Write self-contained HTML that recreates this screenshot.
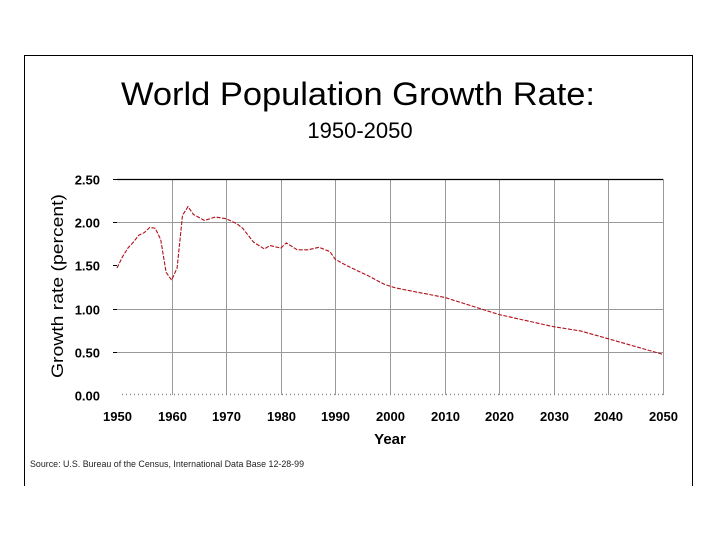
<!DOCTYPE html>
<html><head><meta charset="utf-8"><style>
body{margin:0;background:#fff;}
svg text{font-family:"Liberation Sans",Arial,sans-serif;}
</style></head><body>
<svg width="720" height="540" xmlns="http://www.w3.org/2000/svg">
<rect x="0" y="0" width="720" height="540" fill="#fff"/>
<path d="M24.5 486 V55.5 H692.5 V486" fill="none" stroke="#000" stroke-width="1"/>
<text x="121" y="105" font-size="32" textLength="474" lengthAdjust="spacingAndGlyphs">World Population Growth Rate:</text>
<text x="360" y="138" font-size="22" text-anchor="middle">1950-2050</text>
<g id="grid"></g>
<g id="axes"></g>
<path id="series" fill="none" stroke="#b0101a" stroke-width="1.1" stroke-dasharray="4,1.5"/>
<text transform="translate(63,286) rotate(-90)" font-size="17" text-anchor="middle" textLength="184" lengthAdjust="spacingAndGlyphs">Growth rate (percent)</text>
<text x="390" y="444" font-size="15" font-weight="bold" text-anchor="middle">Year</text>
<text x="30" y="467" font-size="9.5" fill="#222" textLength="274" lengthAdjust="spacingAndGlyphs">Source: U.S. Bureau of the Census, International Data Base 12-28-99</text>
</svg>
<script>
const years=[1950,1951,1952,1953,1954,1955,1956,1957,1958,1959,1960,1961,1962,1963,1964,1966,1968,1970,1972,1973,1975,1977,1978,1980,1981,1983,1985,1987,1989,1990,1992,1994,1996,1999,2001,2005,2010,2015,2020,2025,2030,2035,2040,2045,2050];
const rates=[1.47,1.60,1.70,1.77,1.85,1.88,1.94,1.93,1.80,1.42,1.33,1.47,2.08,2.18,2.09,2.02,2.06,2.04,1.98,1.93,1.77,1.69,1.73,1.70,1.76,1.68,1.68,1.71,1.66,1.57,1.50,1.44,1.38,1.28,1.24,1.19,1.13,1.03,0.93,0.86,0.79,0.74,0.65,0.56,0.47];
const yTicks=[0,0.5,1,1.5,2,2.5];
const yTickLabels=["0.00","0.50","1.00","1.50","2.00","2.50"];
const xTicks=[1950,1960,1970,1980,1990,2000,2010,2020,2030,2040,2050];
const NS="http://www.w3.org/2000/svg";
const X0=117,X1=663,Y0=395,Y1=179;
const xs=v=>X0+(v-1950)/100*(X1-X0);
const ys=v=>Y0-(v/2.5)*(Y0-Y1);
const gridG=document.getElementById('grid'),axesG=document.getElementById('axes');
function mk(tag,attrs,parent){const e=document.createElementNS(NS,tag);for(const k in attrs)e.setAttribute(k,attrs[k]);parent.appendChild(e);return e;}
yTicks.forEach((v,i)=>{
  const y=Math.round(ys(v))+0.5;
  if(v>0&&v<2.5&&v!==1.5){const l=mk('line',{x1:X0,x2:X1,y1:y,y2:y,stroke:'#999','stroke-width':1},gridG);
  
  }
  if(v>0){const t=mk('line',{x1:X0-4,x2:X0,y1:y,y2:y,stroke:'#000'},axesG);
  
  }
  const tx=mk('text',{x:100,y:y+5,'font-size':13,'font-weight':'bold','text-anchor':'end'},axesG);
  tx.textContent=yTickLabels[i];
  
  
});
xTicks.forEach(v=>{
  const x=Math.round(xs(v))+0.5;
  if(v>1950){const l=mk('line',{x1:x,x2:x,y1:Y1,y2:Y0,stroke:'#999','stroke-width':1},gridG);
  
  }
  const tx=mk('text',{x:x,y:421,'font-size':13,'font-weight':'bold','text-anchor':'middle'},axesG);
  tx.textContent=v;
  
  
});
const topBorder=mk('line',{x1:X0,x2:X1,y1:Y1+0.5,y2:Y1+0.5,stroke:'#000','stroke-width':1.2},axesG);


const baseLine=mk('line',{x1:X0+5,x2:X1,y1:Y0-0.5,y2:Y0-0.5,stroke:'#888','stroke-width':1.5,'stroke-dasharray':'1,3'},axesG);


document.getElementById('series').setAttribute('d',years.map((yr,i)=>(i?'L':'M')+xs(yr).toFixed(1)+' '+ys(rates[i]).toFixed(1)).join(' '));
</script>
</body></html>
